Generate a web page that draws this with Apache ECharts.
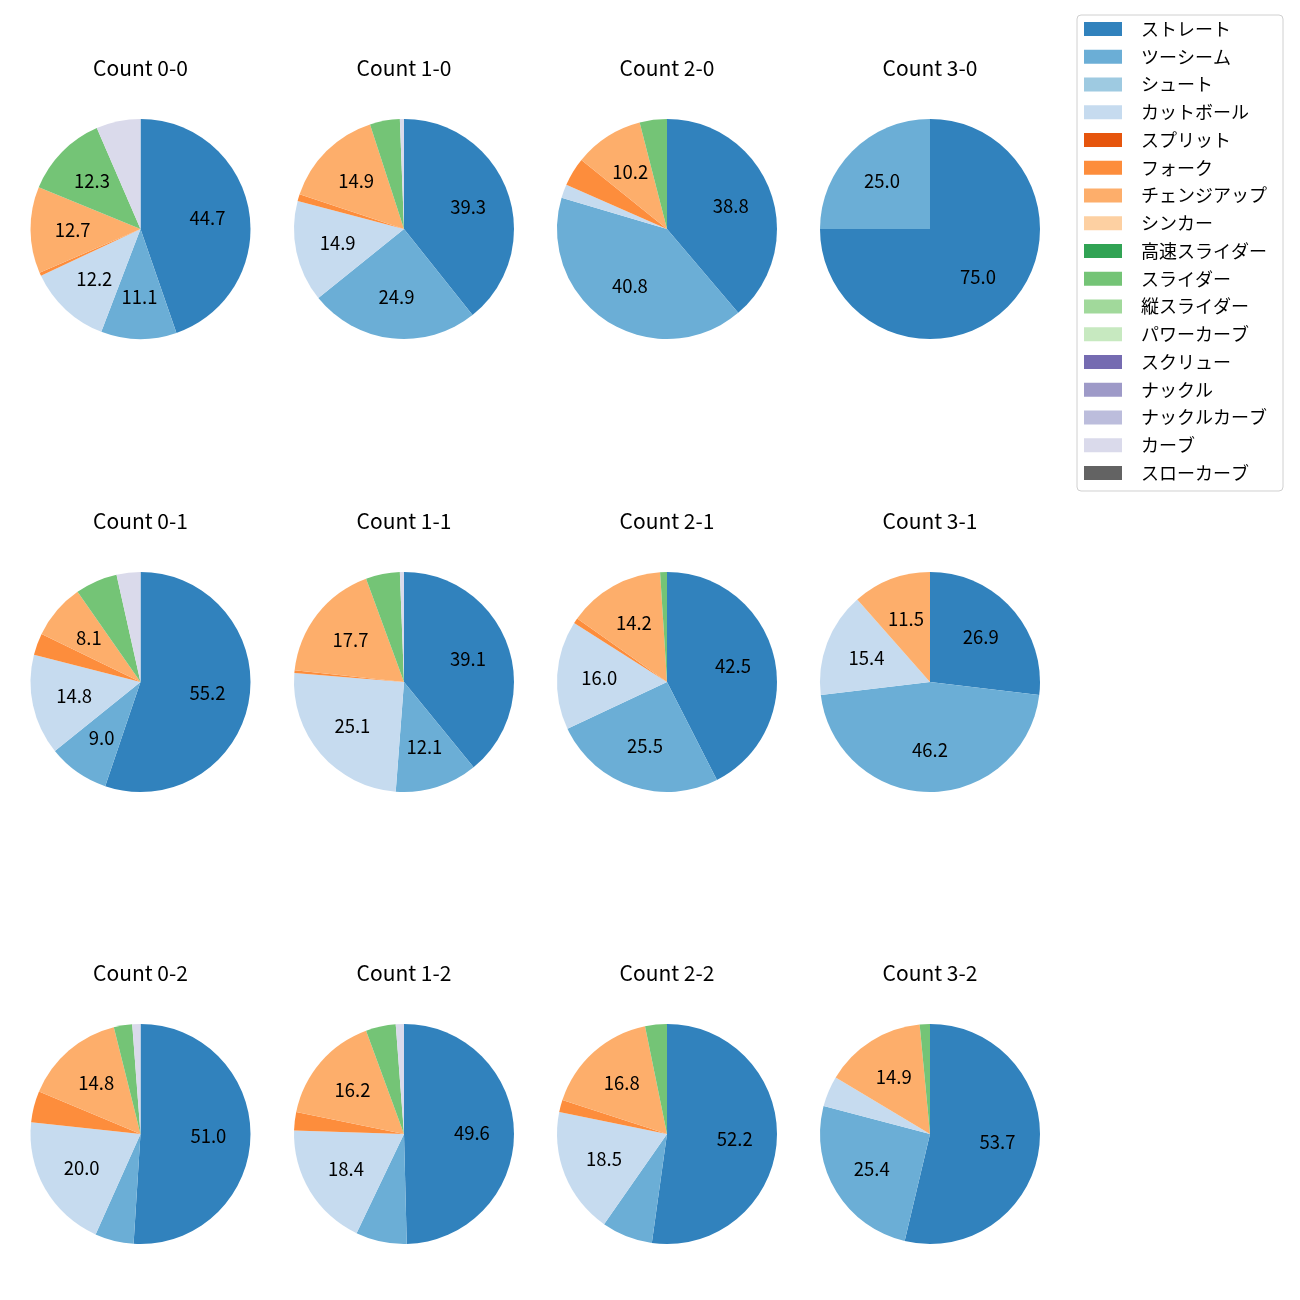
<!DOCTYPE html>
<html>
<head>
<meta charset="utf-8">
<script src="https://cdn.jsdelivr.net/npm/echarts@6/dist/echarts.min.js"></script>
<style>html,body{margin:0;padding:0;background:#fff;}#c{width:1300px;height:1300px;}</style>
</head>
<body>
<div id="c"></div>
<script>
const categories = ['ストレート','ツーシーム','シュート','カットボール','スプリット','フォーク','チェンジアップ','シンカー','高速スライダー','スライダー','縦スライダー','パワーカーブ','スクリュー','ナックル','ナックルカーブ','カーブ','スローカーブ'];
const colors = ['#3182bd','#6baed6','#9ecae1','#c6dbef','#e6550d','#fd8d3c','#fdae6b','#fdd0a2','#31a354','#74c476','#a1d99b','#c7e9c0','#756bb1','#9e9ac8','#bcbddc','#dadaeb','#636363'];
const titles = ['Count 0-0','Count 1-0','Count 2-0','Count 3-0','Count 0-1','Count 1-1','Count 2-1','Count 3-1','Count 0-2','Count 1-2','Count 2-2','Count 3-2'];
// values in category order
const count00 = [44.7,11.1,0,12.2,0,0.5,12.7,0,0,12.3,0,0,0,0,0,6.5,0];
const count10 = [39.3,24.9,0,14.9,0,1.0,14.9,0,0,4.4,0,0,0,0,0,0.6,0];
const count20 = [38.8,40.8,0,2.0,0,4.2,10.2,0,0,4.0,0,0,0,0,0,0,0];
const count30 = [75.0,25.0,0,0,0,0,0,0,0,0,0,0,0,0,0,0,0];
const count01 = [55.2,9.0,0,14.8,0,3.2,8.1,0,0,6.2,0,0,0,0,0,3.5,0];
const count11 = [39.1,12.1,0,25.1,0,0.4,17.7,0,0,5.0,0,0,0,0,0,0.6,0];
const count21 = [42.5,25.5,0,16.0,0,0.8,14.2,0,0,1.0,0,0,0,0,0,0,0];
const count31 = [26.9,46.2,0,15.4,0,0,11.5,0,0,0,0,0,0,0,0,0,0];
const count02 = [51.0,5.7,0,20.0,0,4.6,14.8,0,0,2.7,0,0,0,0,0,1.2,0];
const count12 = [49.6,7.5,0,18.4,0,2.7,16.2,0,0,4.4,0,0,0,0,0,1.2,0];
const count22 = [52.2,7.5,0,18.5,0,1.8,16.8,0,0,3.2,0,0,0,0,0,0,0];
const count32 = [53.7,25.4,0,4.5,0,0,14.9,0,0,1.5,0,0,0,0,0,0,0];
const allCounts = [count00,count10,count20,count30,count01,count11,count21,count31,count02,count12,count22,count32];

const FONT = '"Noto Sans CJK JP", "Noto Sans", sans-serif';
const colX = [140.5, 404, 667, 930];
const rowY = [229, 682, 1134];
const R = 110;

const chart = echarts.init(document.getElementById('c'), null, {renderer: 'canvas'});
const series = [];
const titleOpts = [];
allCounts.forEach((vals, i) => {
  const cx = colX[i % 4], cy = rowY[Math.floor(i / 4)];
  titleOpts.push({
    text: titles[i], left: cx, top: cy - R - 61, textAlign: 'center', padding: 0,
    textStyle: {fontFamily: FONT, fontSize: 21, fontWeight: 'normal', color: '#000'}
  });
  series.push({
    type: 'pie', center: [cx, cy], radius: R, startAngle: 90, clockwise: true,
    avoidLabelOverlap: false, animation: false, silent: true,
    label: {show: false}, labelLine: {show: false},
    data: categories.map((n, k) => ({name: n, value: vals[k], itemStyle: {color: colors[k]}}))
  });
});
allCounts.forEach((vals, i) => {
  const cx = colX[i % 4], cy = rowY[Math.floor(i / 4)];
  series.push({
    type: 'pie', center: [cx, cy], radius: R * 1.18, startAngle: 90, clockwise: true,
    avoidLabelOverlap: false, animation: false, silent: true, z: 5,
    itemStyle: {color: 'rgba(0,0,0,0)'},
    label: {show: true, position: 'inside', fontFamily: FONT, fontSize: 18.5, color: '#000',
      formatter: p => (p.value >= 8 ? p.value.toFixed(1) : '')},
    labelLine: {show: false},
    emphasis: {disabled: true},
    data: categories.map((n, k) => ({name: n, value: vals[k]}))
  });
});

chart.setOption({
  backgroundColor: '#fff',
  title: titleOpts,
  legend: {
    data: categories, orient: 'vertical', left: 1077, top: 15,
    padding: [5, 9, 9, 7], itemWidth: 38, itemHeight: 14, itemGap: 9.75,
    icon: 'rect', borderColor: '#d0d0d0', borderWidth: 1, borderRadius: 4,
    selectedMode: false,
    textStyle: {fontFamily: FONT, fontSize: 18, color: '#000', padding: [0,0,0,14], width: 133, lineHeight: 14}
  },
  series: series
});
</script>
</body>
</html>
